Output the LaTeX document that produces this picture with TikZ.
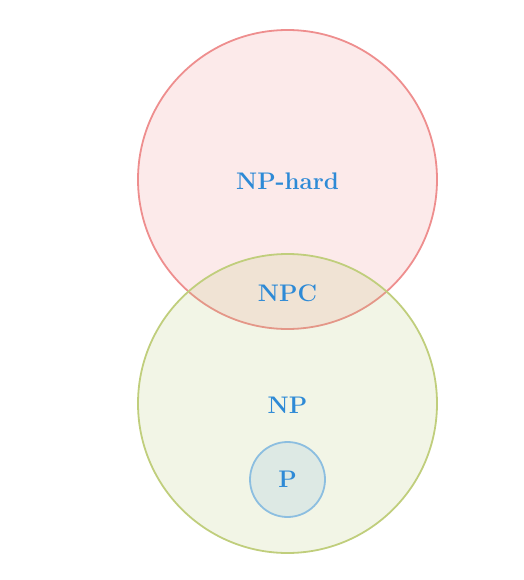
\documentclass[tikz,border=0pt]{standalone}
\usepackage{fontspec}
\usepackage{tikz}
\definecolor{hardfill}{RGB}{240,128,128}
\definecolor{hardline}{RGB}{238,142,142}
\definecolor{npfill}{RGB}{179,196,108}
\definecolor{npline}{RGB}{192,206,124}
\definecolor{pfill}{RGB}{221,233,228}
\definecolor{pline}{RGB}{140,190,224}
\definecolor{lbl}{RGB}{46,138,214}
\tikzset{
  setcircle/.style={circle, inner sep=0pt, line width=1.8pt, fill opacity=0.17, draw opacity=1},
  lab/.style={text=lbl, font=\fontsize{24}{28}\selectfont\bfseries, inner sep=0pt}
}
\begin{document}
\begin{tikzpicture}[x=1pt,y=-1pt]
\useasboundingbox (0,0) rectangle (523,580);
\node[setcircle, minimum size=299pt, fill=hardfill, draw=hardline] (hard) at (287.5,179.5) {};
\node[setcircle, minimum size=299pt, fill=npfill, draw=npline] (np) at (287.5,403.5) {};
\node[circle, inner sep=0pt, minimum size=75pt, line width=1.8pt, fill=pfill, draw=pline] (p) at (287.5,479.5) {};
\node[lab] (thard) at (287.5,181) {NP-hard};
\node[lab] (tnpc) at (287.5,293) {NPC};
\node[lab] (tnp) at (287.5,405) {NP};
\node[lab] (tp) at (287.5,479.5) {P};
\end{tikzpicture}
\end{document}
